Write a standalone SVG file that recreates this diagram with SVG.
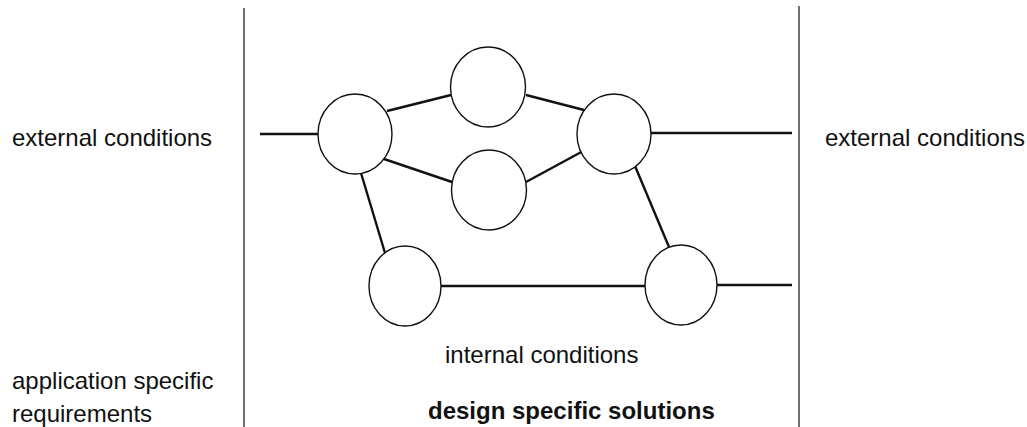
<svg xmlns="http://www.w3.org/2000/svg" width="1027" height="427" viewBox="0 0 1027 427">
<style>
.node{fill:#fff;stroke:#111;stroke-width:1.4}
.edge{stroke:#111;stroke-width:2.4;fill:none}
.frame{stroke:#222;stroke-width:1.3}
.t{font-family:"Liberation Sans",Arial,sans-serif;font-size:24px;fill:#111}
.b{font-weight:bold}
</style>
<rect width="1027" height="427" fill="#fff"/>
<g id="frame">
<line class="frame" x1="244" y1="8" x2="244" y2="427"/>
<line class="frame" x1="799" y1="6" x2="799" y2="427"/>
</g>
<g id="connectors">
<line class="edge" x1="260" y1="134" x2="318" y2="134"/>
<line class="edge" x1="387" y1="111" x2="451" y2="95"/>
<line class="edge" x1="384" y1="159" x2="452" y2="182"/>
<line class="edge" x1="526" y1="95" x2="584" y2="110"/>
<line class="edge" x1="526" y1="182" x2="585" y2="150"/>
<line class="edge" x1="651" y1="133" x2="792" y2="133"/>
<line class="edge" x1="361" y1="173" x2="385" y2="253"/>
<line class="edge" x1="635" y1="166" x2="669" y2="247"/>
<line class="edge" x1="441" y1="286" x2="645" y2="286"/>
<line class="edge" x1="717" y1="285" x2="792" y2="285"/>
</g>
<g id="nodeA"><ellipse class="node" cx="355" cy="134" rx="37" ry="40"/></g>
<g id="nodeB"><ellipse class="node" cx="488" cy="87" rx="37.5" ry="40"/></g>
<g id="nodeC"><ellipse class="node" cx="489" cy="190" rx="37.5" ry="40"/></g>
<g id="nodeD"><ellipse class="node" cx="614" cy="134" rx="37" ry="40"/></g>
<g id="nodeE"><ellipse class="node" cx="405" cy="286" rx="36" ry="40"/></g>
<g id="nodeF"><ellipse class="node" cx="681" cy="285" rx="36" ry="40"/></g>
<g id="labels">
<text class="t" x="12" y="146">external conditions</text>
<text class="t" x="825" y="146">external conditions</text>
<text class="t" x="12" y="389">application specific</text>
<text class="t" x="12" y="422">requirements</text>
<text class="t" x="445" y="363">internal conditions</text>
<text class="t b" x="428" y="419">design specific solutions</text>
</g>
</svg>
